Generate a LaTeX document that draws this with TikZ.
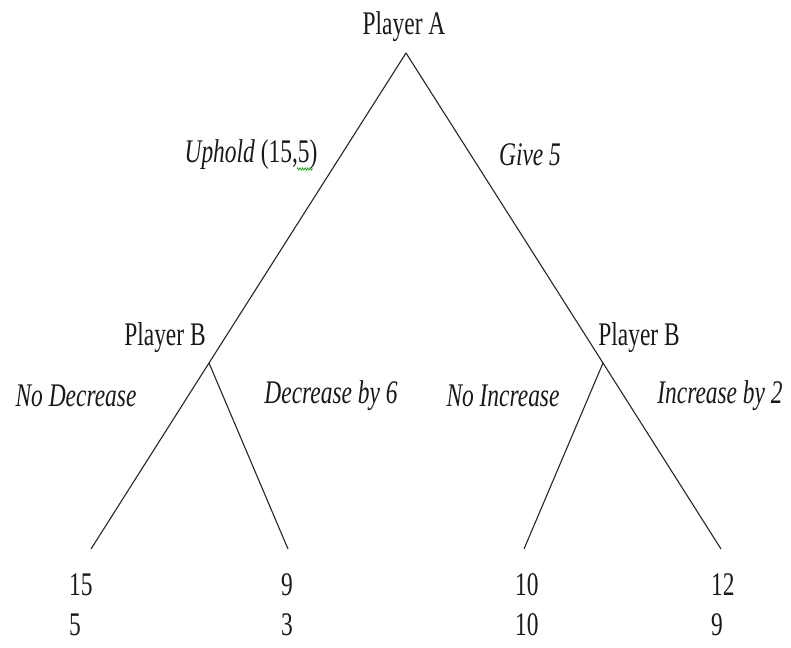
\documentclass[tikz,border=0pt]{standalone}
\usepackage{fontspec}
\setmainfont{Liberation Serif}[FakeStretch=0.71]
\usetikzlibrary{decorations.pathmorphing}
\begin{document}
\begin{tikzpicture}[x=1pt,y=-1pt,
  branch/.style={draw=black!85, line width=1.1pt},
  lbl/.style={inner sep=0pt, text=black!90, font=\fontsize{33}{40}\selectfont},
  leaf/.style={lbl, anchor=west, align=left},
  squiggle/.style={draw=green!55!black, line width=0.6pt, decorate,
    decoration={zigzag, segment length=2.5pt, amplitude=1.2pt}}]
\fill[white] (0,0) rectangle (791,647);
\useasboundingbox (0,0) rectangle (791,647);
% decision points and branch ends
\coordinate (a) at (406,53);
\coordinate (b1) at (209,363);
\coordinate (b2) at (603,363);
\coordinate (e1) at (91,549);
\coordinate (e2) at (288,549);
\coordinate (e3) at (524,549);
\coordinate (e4) at (721,549);
% labels
\node[lbl] (pA) at (404,27) {Player A};
\node[lbl] (up) at (251,155) {\textit{Uphold} (15,5)};
\node[lbl] (give) at (530,155) {\textit{Give 5}};
\node[lbl] (pB1) at (165,338) {Player B};
\node[lbl] (pB2) at (639,338) {Player B};
\node[lbl] (nd) at (76,396) {\textit{No Decrease}};
\node[lbl] (db) at (331,396) {\textit{Decrease by 6}};
\node[lbl] (ni) at (503,396) {\textit{No Increase}};
\node[lbl] (ib) at (720,396) {\textit{Increase by 2}};
% payoffs
\node[leaf] (l1) at (69,605) {15\\5};
\node[leaf] (l2) at (281,605) {9\\3};
\node[leaf] (l3) at (515,605) {10\\10};
\node[leaf] (l4) at (711,605) {12\\9};
% branches
\draw[branch] (a) -- (b1) -- (e1);
\draw[branch] (b1) -- (e2);
\draw[branch] (a) -- (b2) -- (e4);
\draw[branch] (b2) -- (e3);
% spell-check mark
\draw[squiggle] (297,169) -- (313,169);
\end{tikzpicture}
\end{document}
